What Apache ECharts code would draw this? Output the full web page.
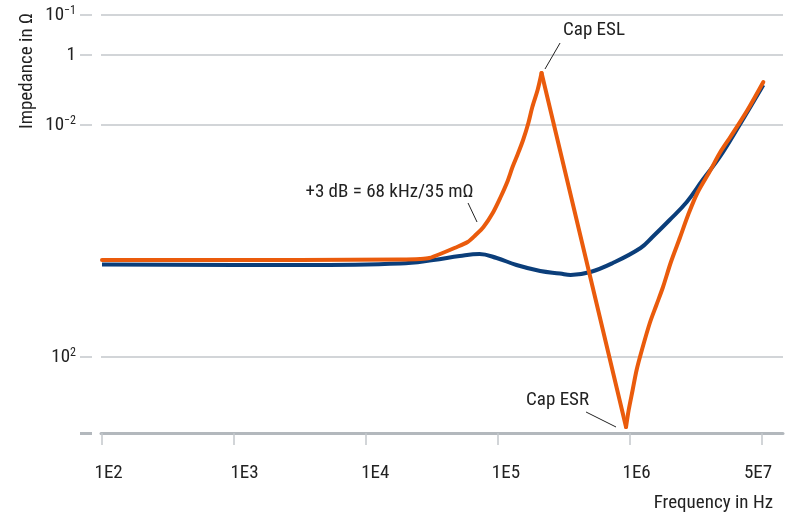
<!DOCTYPE html>
<html>
<head>
<meta charset="utf-8">
<script src="https://cdn.jsdelivr.net/npm/echarts@6/dist/echarts.min.js"></script>
<style>
  html, body { margin: 0; padding: 0; background: #fff; }
  #chart { width: 791px; height: 518px; }
</style>
</head>
<body>
<div id="chart"></div>
<script>
// x: decade position (tick 2 = 1E2 ... tick 7 = 5E7), y: level on the chart's impedance scale
const xTickVals  = [2, 3, 4, 5, 6, 7]
const xLabelVals = [2.05, 3.08, 4.07, 5.06, 6.05, 6.97]
const xLabels    = ['1E2', '1E3', '1E4', '1E5', '1E6', '5E7']
const yTickVals  = [0, 76, 308, 378, 418]
const yLabelVals = [76, 308, 378, 418]
const yLabels    = ['10{s|2}', '10{s|−2}', '1', '10{s|−1}']

// blue curve
const blueCurve = [
  [2.00, 168.5], [3.50, 168], [4.26, 169.5], [4.51, 173], [4.71, 177], [4.86, 179],
  [4.99, 175], [5.14, 168], [5.32, 162], [5.47, 159.5], [5.55, 158], [5.70, 161],
  [5.87, 170], [6.08, 185], [6.17, 196], [6.30, 213], [6.43, 231], [6.55, 253],
  [6.68, 276], [6.83, 308], [7.01, 348],
]
// orange curve, in three pieces: rise to ESL peak, straight drop to ESR dip, climb
const orangeRise = [
  [2.00, 173], [3.50, 173], [4.26, 173.5], [4.41, 174], [4.48, 175], [4.58, 180],
  [4.67, 185], [4.77, 191], [4.83, 198], [4.89, 206], [4.96, 220], [5.02, 236],
  [5.07, 251], [5.11, 266], [5.15, 279], [5.19, 293], [5.23, 310], [5.26, 326],
  [5.30, 343], [5.33, 360],
]
const orangeDrop = [[5.33, 360], [5.97, 6]]
const orangeClimb = [
  [5.97, 6], [5.99, 23], [6.02, 43], [6.05, 63], [6.09, 83], [6.15, 110], [6.20, 128],
  [6.25, 146], [6.31, 171], [6.38, 196], [6.44, 218], [6.51, 240], [6.61, 263],
  [6.68, 280], [6.76, 296], [6.89, 323], [7.01, 351],
]

// annotations: text centre and leader line ends
const noteTexts = ['Cap ESL', '+3 dB = 68 kHz/35 mΩ', 'Cap ESR']
const notePos   = [[5.727, 403], [4.178, 241], [5.451, 33]]
const noteLines = [
  [[5.470, 390], [5.356, 364]],
  [[4.773, 230], [4.841, 211]],
  [[5.667, 21], [5.894, 6]],
]

const FONT = "'Liberation Sans Narrow', 'Roboto Condensed', 'DejaVu Sans Condensed', Roboto, sans-serif"
const TXT = '#222'
const GRIDC = '#c3c7cb'
const ORANGE = '#ea5b0c'

const orangePiece = (data, smooth) => ({
  name: 'orange',
  type: 'line',
  data,
  smooth,
  showSymbol: false,
  lineStyle: { color: ORANGE, width: 4, cap: 'round', join: 'round' },
  itemStyle: { color: ORANGE },
})

const chart = echarts.init(document.getElementById('chart'))

chart.setOption({
  animation: false,
  backgroundColor: '#fff',
  textStyle: { fontFamily: FONT },
  title: {
    text: 'Frequency in Hz',
    right: 18, top: 494, padding: 0,
    textStyle: { fontFamily: FONT, fontSize: 19, fontWeight: 'normal', color: TXT },
  },
  grid: { left: 101, right: 8, top: 15, bottom: 85, containLabel: false, outerBoundsMode: 'none' },
  xAxis: [{
    type: 'value',
    min: 1.9924, max: 7.159,
    position: 'bottom',
    offset: 10,
    axisLine: { show: false },
    axisTick: { show: true, customValues: xTickVals, length: 12, lineStyle: { color: GRIDC, width: 1.5 } },
    axisLabel: {
      customValues: xLabelVals,
      margin: 21,
      fontFamily: FONT, fontSize: 19, color: TXT,
      formatter: v => xLabels[xLabelVals.indexOf(v)] ?? '',
    },
    splitLine: { show: false },
  }, {
    type: 'value',
    min: 1.9924, max: 7.159,
    position: 'bottom',
    offset: 0,
    axisLine: { show: true, lineStyle: { color: '#b3b8bd', width: 3 } },
    axisTick: { show: false },
    axisLabel: { show: false },
    splitLine: { show: false },
  }],
  yAxis: [{
    type: 'value',
    min: 0, max: 418,
    position: 'left',
    offset: 9,
    axisLine: { show: false },
    axisTick: { show: true, customValues: yTickVals, length: 12, lineStyle: { color: GRIDC, width: 1.5 } },
    axisLabel: {
      customValues: yLabelVals,
      margin: 16,
      fontFamily: FONT, fontSize: 19, color: TXT,
      formatter: v => yLabels[yLabelVals.indexOf(v)] ?? '',
      rich: {
        s: { fontFamily: FONT, fontSize: 12, color: TXT, padding: [0, 0, 9, 0], verticalAlign: 'bottom' },
      },
    },
    splitLine: { show: true, lineStyle: { color: GRIDC, width: 1.5 } },
  }, {
    type: 'value',
    min: 0, max: 418,
    position: 'left',
    offset: 9,
    axisLine: { show: false },
    axisTick: { show: true, customValues: [0], length: 12, lineStyle: { color: '#b3b8bd', width: 3 } },
    axisLabel: { show: false },
    splitLine: { show: false },
  }, {
    type: 'value',
    min: 0, max: 418,
    position: 'left',
    offset: 74,
    name: 'Impedance in Ω',
    nameLocation: 'end',
    nameRotate: 90,
    nameGap: 2,
    nameTextStyle: { fontFamily: FONT, fontSize: 19, color: TXT, align: 'right', verticalAlign: 'middle' },
    axisLine: { show: false },
    axisTick: { show: false },
    axisLabel: { show: false },
    splitLine: { show: false },
  }],
  series: [{
    name: 'blue',
    type: 'line',
    data: blueCurve,
    smooth: 0.4,
    showSymbol: false,
    lineStyle: { color: '#0b3e7a', width: 4 },
    itemStyle: { color: '#0b3e7a' },
  },
  orangePiece(orangeRise, 0.3),
  {
    ...orangePiece(orangeDrop, false),
    markLine: {
      silent: true,
      symbol: ['none', 'none'],
      label: { show: false },
      lineStyle: { color: TXT, width: 1, type: 'solid' },
      data: noteLines.map(([a, b]) => [{ coord: a }, { coord: b }]),
    },
    markPoint: {
      silent: true,
      symbol: 'circle',
      symbolSize: 0,
      itemStyle: { color: 'transparent' },
      label: {
        show: true, position: 'inside', formatter: '{b}',
        fontFamily: FONT, fontSize: 19, color: TXT,
      },
      data: noteTexts.map((t, i) => ({ name: t, coord: notePos[i] })),
    },
  },
  orangePiece(orangeClimb, 0.3),
  ],
})
</script>
</body>
</html>
